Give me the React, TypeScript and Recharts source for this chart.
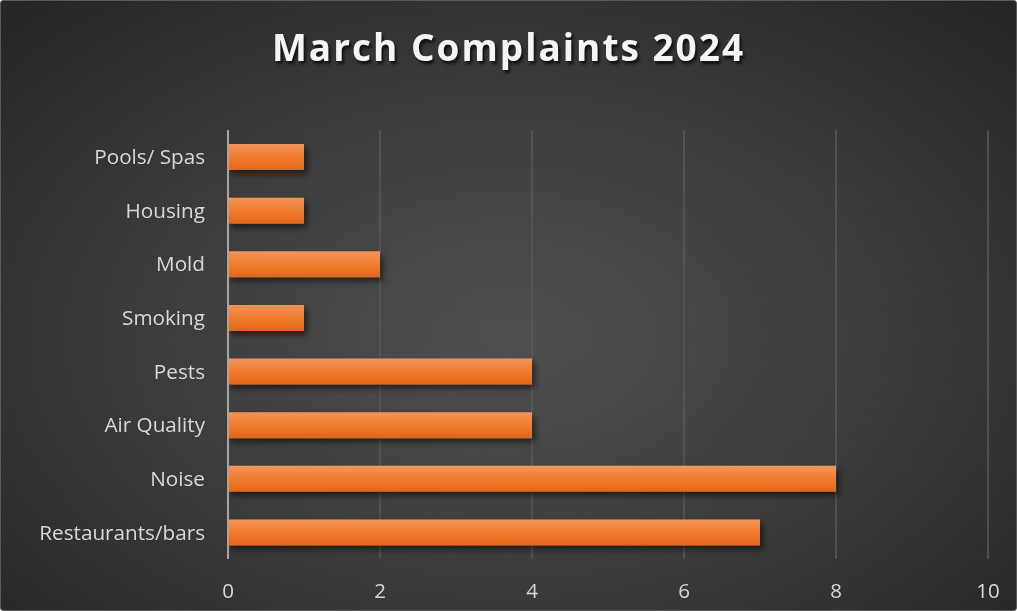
import { BarChart, Bar, XAxis, YAxis, CartesianGrid } from 'recharts';

const categories = ['Pools/ Spas', 'Housing ', 'Mold', 'Smoking', 'Pests', 'Air Quality', 'Noise', 'Restaurants/bars'];
const complaints = [1, 1, 2, 1, 4, 4, 8, 7];
const xTicks = [0, 2, 4, 6, 8, 10];

const data = categories.map((name, i) => ({ name, value: complaints[i] }));

const font = '"Open Sans", "Liberation Sans", sans-serif';

export default function App() {
  return (
    <div
      style={{
        position: 'fixed',
        left: 0,
        top: 0,
        width: 1017,
        height: 611,
        boxSizing: 'border-box',
        border: '1px solid #5a5a5a',
        borderRadius: 3,
        background: 'radial-gradient(ellipse 70% 75% at 50% 55%, #505050 0%, #3a3a3a 55%, #262626 100%)',
        fontFamily: font,
        overflow: 'hidden',
      }}
    >
      <div
        style={{
          position: 'absolute',
          left: 0,
          width: '100%',
          top: 20,
          textAlign: 'center',
          color: '#f5f5f5',
          fontSize: 37,
          fontWeight: 700,
          letterSpacing: 2,
          textShadow: '2px 3px 3px rgba(0,0,0,0.7)',
        }}
      >
        March Complaints 2024
      </div>
      <BarChart
        width={1017}
        height={611}
        data={data}
        layout="vertical"
        barSize={26}
        margin={{ top: 130, right: 29, bottom: 22, left: 0 }}
        style={{ position: 'absolute', left: -1, top: -1 }}
      >
        <defs>
          <linearGradient id="barFill" x1="0" y1="0" x2="0" y2="1">
            <stop offset="0%" stopColor="#f3955c" />
            <stop offset="55%" stopColor="#f07a2a" />
            <stop offset="100%" stopColor="#e2661a" />
          </linearGradient>
          <filter id="barShadow" x="-5%" y="-30%" width="115%" height="190%">
            <feDropShadow dx="3" dy="4" stdDeviation="3" floodColor="#000" floodOpacity="0.55" />
          </filter>
        </defs>
        <CartesianGrid horizontal={false} stroke="#5a5a5a" strokeWidth={1.5} />
        <XAxis
          type="number"
          domain={[0, 10]}
          ticks={xTicks}
          axisLine={false}
          tickLine={false}
          height={30}
          tick={{ fill: '#d9d9d9', fontSize: 20.5, fontFamily: font, dy: 16 }}
        />
        <YAxis
          type="category"
          dataKey="name"
          width={228}
          axisLine={{ stroke: '#a6a6a6', strokeWidth: 2 }}
          tickLine={false}
          tickMargin={17}
          tick={{ fill: '#d9d9d9', fontSize: 20.7, fontFamily: font }}
        />
        <Bar dataKey="value" fill="url(#barFill)" filter="url(#barShadow)" isAnimationActive={false} />
      </BarChart>
    </div>
  );
}
